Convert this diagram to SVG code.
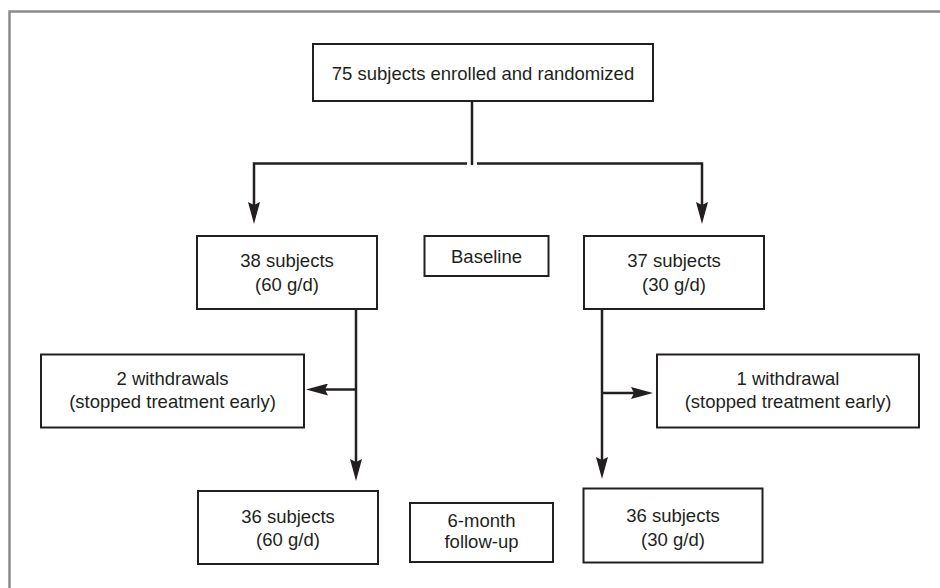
<svg xmlns="http://www.w3.org/2000/svg" width="940" height="588" viewBox="0 0 940 588">
  <style>
    .box { fill: #ffffff; stroke: #231f20; stroke-width: 2; }
    .lbl { font-family: "Liberation Sans", Arial, sans-serif; font-size: 18.5px; fill: #231f20; text-anchor: middle; }
    .conn { fill: none; stroke: #231f20; stroke-width: 2.5; }
    .frame { fill: none; stroke: #8a8a8a; stroke-width: 2.5; }
  </style>
  <defs>
    <marker id="arrow" viewBox="0 0 22 12" refX="12" refY="6" markerWidth="22" markerHeight="12" markerUnits="userSpaceOnUse" orient="auto">
      <path d="M0,0 L22,6 L0,12 L3,6 Z" fill="#231f20"/>
    </marker>
  </defs>
  <rect width="940" height="588" fill="#ffffff"/>
  <path class="frame" d="M9.5,588 V11.5 H940"/>

  <g id="connectors">
    <path class="conn" d="M472,101 V165"/>
    <path class="conn" d="M467,163.5 H254 V214" marker-end="url(#arrow)"/>
    <path class="conn" d="M477,163.5 H702 V214" marker-end="url(#arrow)"/>
    <path class="conn" d="M356,309 V471" marker-end="url(#arrow)"/>
    <path class="conn" d="M356,389.5 H316" marker-end="url(#arrow)"/>
    <path class="conn" d="M602,309 V469" marker-end="url(#arrow)"/>
    <path class="conn" d="M602,393 H643" marker-end="url(#arrow)"/>
  </g>

  <g id="enrolled">
    <rect class="box" x="313" y="44" width="340" height="57"/>
    <text class="lbl" x="483" y="79.5">75 subjects enrolled and randomized</text>
  </g>
  <g id="group60">
    <rect class="box" x="197" y="236" width="180" height="73"/>
    <text class="lbl" x="287" y="267">38 subjects</text>
    <text class="lbl" x="287" y="291">(60 g/d)</text>
  </g>
  <g id="baseline">
    <rect class="box" x="424.5" y="236" width="124" height="40"/>
    <text class="lbl" x="486.5" y="262.5">Baseline</text>
  </g>
  <g id="group30">
    <rect class="box" x="584" y="236" width="180" height="73"/>
    <text class="lbl" x="674" y="267">37 subjects</text>
    <text class="lbl" x="674" y="291">(30 g/d)</text>
  </g>
  <g id="withdraw60">
    <rect class="box" x="41" y="354.5" width="263" height="73"/>
    <text class="lbl" x="172.5" y="385">2 withdrawals</text>
    <text class="lbl" x="172.5" y="408">(stopped treatment early)</text>
  </g>
  <g id="withdraw30">
    <rect class="box" x="657" y="354.5" width="262" height="73"/>
    <text class="lbl" x="788" y="385">1 withdrawal</text>
    <text class="lbl" x="788" y="408">(stopped treatment early)</text>
  </g>
  <g id="final60">
    <rect class="box" x="198" y="491" width="180" height="73"/>
    <text class="lbl" x="288" y="522.5">36 subjects</text>
    <text class="lbl" x="288" y="546">(60 g/d)</text>
  </g>
  <g id="followup">
    <rect class="box" x="410" y="503" width="143" height="59"/>
    <text class="lbl" x="481.5" y="526.5">6-month</text>
    <text class="lbl" x="481.5" y="548">follow-up</text>
  </g>
  <g id="final30">
    <rect class="box" x="583.5" y="488.5" width="179" height="74"/>
    <text class="lbl" x="673" y="522">36 subjects</text>
    <text class="lbl" x="673" y="545.5">(30 g/d)</text>
  </g>
</svg>
